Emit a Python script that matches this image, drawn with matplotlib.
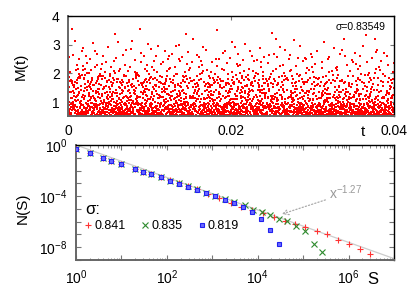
import re
import numpy as np
import matplotlib
matplotlib.use('Agg')
import matplotlib.pyplot as plt
from matplotlib.ticker import LogLocator, FuncFormatter, NullFormatter, FixedLocator

plt.rcParams['font.family'] = ['Liberation Sans', 'DejaVu Sans']
plt.rcParams['mathtext.fontset'] = 'custom'
plt.rcParams['mathtext.rm'] = 'Liberation Sans'
plt.rcParams['mathtext.it'] = 'Liberation Sans:italic'
plt.rcParams['mathtext.bf'] = 'Liberation Sans:bold'

# ---------------- top panel data: M(t) samples, hand-estimated ----------------
# each sample = letter (band of M, see M_bands) + digit (position inside the band, tenths)
M_bands = [0.53, 0.56, 0.59, 0.62, 0.65, 0.68, 0.71, 0.74, 0.77, 0.80, 0.83, 0.86, 0.89,
           0.92, 0.95, 0.98, 1.01, 1.06, 1.11, 1.16, 1.21, 1.26, 1.31, 1.36, 1.41, 1.46,
           1.51, 1.55, 1.59, 1.63, 1.67, 1.71, 1.75, 1.79, 1.83, 1.87, 1.91, 1.95, 2.00,
           2.07, 2.14, 2.21, 2.28, 2.35, 2.43, 2.51, 2.62, 2.73, 2.85, 2.98, 3.22, 3.55]
band_letters = 'abcdefghijklmnopqrstuvwxyzABCDEFGHIJKLMNOPQRSTUVWXY'
M_codes_run1 = (
    "k3R7b0T5q2e9J4w8a1M6c3x0G7n2d5Y9h1s4F8j3o6U0l2p7A5v9i1C4m8g3X6r0f2N7t5y9E1k4b8Q3z6h0O2a7u5S9w1d4L8c3j6I0p2n7B5q9e1V4g8t3"
    "f8W2a5c0P7m3i9H1s6x4D0b8u2K5o9g3T7j1e6R0y4n8A2l5q9F3d7w1M4h0v6C9k2r5S8t0b3N6z1e7G4a9p2I5c8u0X3i6"
    "n4B9d1g6V3a0r8j5E2x7l9o1U6c3k8Q0h5t2w7J4m9b1y6D3f0s5L8e2i7O4q9a3C6u1g8H0v5p2T7n9d4K1z6r3A8j0w5"
    "c2M7i4a9e1R6o3h8x0F5b2s7k9W4l1u6d3G8q0n5t2J7y9a4P1g6m3E8f0v5B2r9j4c7I1w6h3S0p8e5N2k7d9Y4b1o6"
    "a6T1e3l8d5H0u2q7c9X4g1n6k3A8s0i5F2v7b9O4r1m6j3D8y0w5C2h7p9e4U1f6x3a8L0t5K2o7z9g4Q1d6i3V8n0b5"
    "h9e2D6k1a4s8N3c0y5G7i2r4b9P1t6f3m8W0l5u2j7A4o9d1X6q3e8H0g5w2B7n4v9c1S6k3x8a0I5p2J7z4f9M1s6"
    "q5a1F8g3o6c0K2t7e4Y9h1n6d3U8b5x0m2R7j4i9C1l6w3s8E0v5a2T7k4f9O1y6r3G8p0u5H2c7e9Q4z1b6N3i8d0"
    "g7X2b4e9i1L6s3a8o0D5m7k2V9c4t1h6P3w8n0A5r2f7j4y9S1d6u3B8q0e5I2l7x4T9a1C6v3k8g0M5o2W7h4b9F1"
    "d3s8a6K1j9u4E7c2p0n5Q8e3h1y6I9b4t2R7l0g5x8A3m6f1o9V4i2w7D0k5r8H3a6z1c9N4v2S7e0j5q8B3u6g1T9"
    "i0c4O7a2h5w9m1E6r3t8b0U5k7d2G9x4f6s1J8n3e5P0l7y2a9C4q6g1W8o3v5h0L7b2k9D4j6u1S8i3e5X0f7m2R9"
    "u6e1A3s7g0n9T4b2x5d8K3h6o1F9a4r7w0c2M5l8j3E6p9i0Y4k7t2B5f8q1H3z6a9V0m4d7c1N8e3s6I0g9u2O5b7"
    "b1j6t3F8a5e0R4i2m7X9c1o5w3G8k0s6D2h9y4n7A1f5q8l3U0e6v2J9d4r7C1x5g8P3a0T6u2k9L4b7i1H5m8e3S0"
    "m4a8Q2f0d6k9c3W5n1h7E4t0r8s2B6j9x3i5o1V7e4g2N9a6y0l3D8u5p1C7b4w9K2f6I0q3s8A5h1v7d4M9c2R6e0"
    "s2d7I5a3u9e1G6x0o4k8b2L7r5c9h3T0j6m1Y8f4a2P7n5e9i3E0w6g1S8t4l7C2v5q9A0b3k6F8d1z4h7O2e5U9c3"
    "t8g3a0N5e7c2j9V4h1s6m3D8b0k5x7R2i9f4o1L6a8w3H5q0d7n2C9u4y6e1T3l8p0B5r7g2X4c9k1M6s3a8E0j5I7"
    "o5k1C8e3b6r9a0W4m7i2d5t8H1x3f6s0P9g4n7a1U5l2c8j3F6v9e0Q4h7y2D5b8u1K3w6q9A0i4z7m2S5d8o1G3e6"
    "j2s9e4a7X1c6g0n3I8k5d2h9B4t7f1r6L0a3m8u5O2w9e1V4x6p0C3i8l5b2T7q9y4E1h6s3N0j7k2a5R8d1c9F6g4"
    "e9l4M1a6h3u8c0S5k2t7D9j4b6r1y3A8i0n5G2f7x9o4W1d6q3e8P0m5s2B7v9a4K1g6l3H8c0w5z2T6b9u3E1k7i4"
    "w3a8b1F5o9d2k6e0R3s7C9m4h2x6j8U1g5n0a3I7t9l2q4L6c8e1Y5f3p7D0r9u2N4b6s1i8H3k5a7G0v2e9O4d6j1"
    "r7e2T6a1s9n4f8k3D0g5c7J2x9h4b1W6i3a8m0A5u7t2o9E4l1d6Q3y8j5C0e2w7k9M4s1b6p3V8g0n5H2a9I4c6f1"
    "y1h6a4o8G2c5e9k3S7b0m4d8U2i6x1t5N9f3r7a0l4J8q2e6B1s5v9g3X7n0k4D8j2w6a1P5h9u3E7c0b4L8z2i6T1"
    "p9a3c7K1f5i0e4W8d2m6s9o3A7k1g5H0t4b8y2n6R9l3x7j0e5C8u2a6F1q4v9h3S7d0w5M2i8c4O6e1b9k3G7s5a0"
    "a2x7d4N9b1e6s3i8l0U5k9g2c6P4o8h1T5m3j7r0a9E4w2f6y8B1n5e3Q7t9d0I4c6u2k8V3a5s1H7g9l4D2b6x0o8"
    "l6c1e8m4A9g3s5k0a7F2i6t9w1R4b8d3u7J0n5h2o9X4y6e1p3C8a5f0q7K2j9s4E6r1v3S8c5z7a0M9g2e4T6b1k8"
    "v4s8a2D6e1l9i3o7N4c0k5G8t2m6b9W1h3f7u5x0A4j8a2r6O9g1n3e7I5d9y2P4s6L1c8q3e0B5w7k2h9U4a6t1F3"
    "c5o0k8e3V7a1b4G9d6s2j5m0X8i3h7n1a4T9f6l2E5w8c0u3y7Q1r4g9e6K2p5a8x1D7t3B6s0i9N4o2h5v8A1d3k6"
    "h4b7a0S3e8g2n6c9R5t1k4j7m0U8d3a6l2w9F5i1q4e7C0s3y8x6O2a5f9H1u4v7k0g3P6b8e2T9r5i1L4c7n3d0E6"
    "k2e6W8a5s1j9c3D7o0m4i8B2h6t9g5a1Y3u7f0x4n8e2R6d9l3K5b1c7q4M0s8v2a6H9k3p5G1w7e4z0j6T2i9A5o3"
    "d9a5f1I6e3k7n0c4X8s2h6b9O1m5g3t7y0e4V8a2r6u1C5j9l3w7P0i4d8e2N6q1k5a9F3x7S0o4g8b2h6L5c1E9t3"
    "n1e7a3U9s5c8g2J6i0b4m7h1d5T9x3k6a8f2Q0r4o7w1e5H9l3v6B2y8c4j0A5s9p1G3t7k4D8u2i6e0M9a3z5R1g7"
)
M_codes_run2 = (
    "b5g2A7e0m4c8F3i1s6a9k2D5o7h0x3B8n1j6C4t9d2E7l5a0q8G3f6u1r4H9e2w7c5J0p3i8K1b6y4m9L2g7a3v0N5d8s1I6k4z9e7O3h2"
    "c9a4M1f7j2E5d0n8l3B6u2g9i5A0t4o7F1b8k3x6e9C2s5m0h7P4r1a6w3D9q8j5G0c2y7e4H1v6l9K3i0b5n8a2J7d4u1f6Q9g3z0k5"
    "e3p7a1I5c8h2m6B0k9t4d7F2j5s1o8A3g6x0n4L9b2e5q8C1i7u3a0D6r9l4G7f1w5h8M2c6k0y3E5v9j1a7H4b2d8N0s6g3z9o5e2"
    "a8d4k0G6i2s9b5F1e7n3c0A4m8u2h6J9q3t7l1B5f9x4o2a6E8j0w3g7C1r5d9k4D2e6p0i8H3c5y1b7a4v2M6n9s0L5u3f8g1K7"
    "m2e6c9C3a7h1t5j0D8g4o2k6b9A3s7f1x5i0E4n8d2w6a9B5l3q7u1F0c4r8e2G6h9y3k7I1m5p0a8J4d2v6g9b3H7s1e5z0N8"
    "j7a3f0B4i8e2l6c1G5s9d3u7h0A2m4k8o1t6n9E3b5w7x2a4C8g0q6r1e9D5j3y7c2F6p8i0K4a1v5h9l3O2d7m0s4e6H8b1u3"
    "d1h5a9e3D7k0c4n8g2A6f0s5b9L3i1t7e4o8m2C6j9u0x5r3a7B1w4q9e6E2l8c0h3G7k5y1d4I9p6a2n0g3J8v7s5b1f4Q6e9"
    "o4c8a1i6E2g9k5d0F3m7e1s4b8u2A6n9h3t0j5C7f1x8l4a2q6D9w3r7e0B5c9k4G2y6i1p8a3H7d5s0M2v4e9g6b1N3o8j5"
    "g6e0b3m8a5D1i9c4s7A2f6k0t5h8n1C4d7e2u9l3x6j0B8a4o1q7r5g9E2w6c3k8F0i5y1a7G4s9p2d6m0J3e8v5h1H7b4l2"
    "s3a7e1k5c9i2F6d0h4m8A1g5n9b3t7e0C4j8l2o6u1f9D5x3a7q0w8r4c2B6k9e5i1G3y7s0h4p8d2E6m9a3v7g1K5b8n0"
    "u2Q8b4d7A1y9h3E6k0c5M2s8g1o7I4l0f6j3a9t5N2e7k1B4x8w0r3d6i9C2p5e8H1a4v7z0G3u6c9s2m5D8o1h4k7F0j3"
    "x4A9f2t6c0I3e7K1n5b8g2S6d9o3L7h0a4q8C1j5w9u2e6m3g0R4a8y1d5M9p2k6E0b3i7v1c4s8H2j6d0F5n9a3l7B1t4"
    "m7z2H5e9a1k4D8r3g6i0s9A2f5o8b1U4l7j0e3t6X9a2n5q8C1w4i7r0E3k6g9d2P5h8v1b4m7a0s3J6c9f2y5l8j1G4g7"
    "o5d9K3a6e0c4h7c1n8G2s5f9b3t6a0N4j7e1u5x8w2D6l9q3a7H0r4c8k1e5y9i2B6e0b3m7v1g4d8s2a5F9o3j6L0n4"
    "w1e4A8j2g5c9k3h6s0E4f7m1a5d8T2i6o9b3n7F0x4u8l1g5w9a2q6I0r3e7k1h4y8D2i6c9v3M7s0a4g8J1d5f9c3b6"
    "f9k2C6a0i4e8e1m5H9b3s6g0a4n8f1d5O9j2u6l0e3x7B1a5q9w2r6h0K3D7i1y5e9c2p6b0s4m8G1v5a9d3h6f0l4n8"
    "i3a6d0h4K8e1f5m9c2F6g0s4b7a1j5N8t2o6e9l3u7x0A4b8q1c5w9k2e6G0h3i7y1d5p9E2s6a0v4c8g1f5j9e2n6b0"
    "l4e8b1a5i9C3d7k0g4m8h1s5a9D2f6o0t3J7n1e5u9x2a6l0w4Q8r1c5k9e3h6y0I4c8p1a5m9s2G6d0g3v7f1b5e9j2"
    "y6a0m3e7c1K5i8b2d6h9s3g7A0o4f8n1t5b9j2E6l0u4a8x1c5q9r3e6k0D4h8c1y5i9M2p6a0s4g7V1d5f9b2e6n0I3"
    "c8c2a5f9k3e6h0m4d8a1i5s9g2o6B0c3n7t1j5e8l2u6a9x3q7w0E4r8c1k5h9e2y6d0i4b8m1p5a9g3s6v0f4H7n1e5"
)
t_start, t_end = 0.0, 0.04
sigma_text = 'σ=0.83549'

# ---------------- bottom panel data: N(S), log10 values -----------
red_label, green_label, blue_label = '0.841', '0.835', '0.819'
red_logS = [0, 0.30, 0.60, 0.78, 1.0, 1.30, 1.48, 1.66, 1.87, 2.08, 2.27, 2.47, 2.67, 2.90,
            3.14, 3.42, 3.64, 3.88, 4.12, 4.36, 4.61, 4.83, 5.05, 5.30, 5.53, 5.76, 6.00, 6.25, 6.48]
red_logN = [-0.30, -0.64, -1.03, -1.24, -1.51, -1.86, -2.10, -2.29, -2.52, -2.77, -2.99, -3.22, -3.46, -3.80,
            -4.18, -4.52, -4.84, -5.10, -5.31, -5.62, -5.94, -6.22, -6.42, -6.75, -7.00, -7.40, -7.71, -8.10, -8.55]
green_logS = [0, 0.30, 0.60, 0.78, 1.0, 1.30, 1.48, 1.66, 1.87, 2.08, 2.27, 2.47, 2.67, 2.87, 3.07,
              3.27, 3.48, 3.71, 3.90, 4.10, 4.27, 4.46, 4.65, 4.84, 5.03, 5.23, 5.41]
green_logN = [-0.30, -0.64, -1.03, -1.25, -1.50, -1.86, -2.10, -2.28, -2.52, -2.78, -3.00, -3.24, -3.48, -3.72, -3.97,
              -4.22, -4.48, -4.73, -5.05, -5.28, -5.49, -5.78, -5.98, -6.37, -6.75, -7.76, -8.40]
blue_logS = [0, 0.30, 0.60, 0.78, 1.0, 1.30, 1.48, 1.66, 1.87, 2.08, 2.27, 2.47, 2.67, 2.87, 3.07,
             3.27, 3.48, 3.68, 3.87, 4.07, 4.26, 4.46]
blue_logN = [-0.30, -0.65, -1.04, -1.25, -1.52, -1.88, -2.14, -2.30, -2.54, -2.80, -3.03, -3.27, -3.53, -3.79, -4.00,
             -4.31, -4.52, -4.89, -5.28, -5.83, -6.67, -7.74]
fit_exponent = -1.27
fit_label = 'x$^{-1.27}$'


# ---------------- decode top data ----------------
def decode(codes):
    vals = []
    for letter, digit in re.findall(r'([a-zA-Y])(\d)', codes):
        k = band_letters.index(letter)
        lo, hi = M_bands[k], M_bands[k + 1]
        vals.append(lo + (int(digit) + 0.5) / 10.0 * (hi - lo))
    return np.array(vals)


M1 = decode(M_codes_run1)
M2 = decode(M_codes_run2)
t1 = np.linspace(t_start, t_end, len(M1))
t2 = np.linspace(t_start, t_end, len(M2))

W, H = 415, 291
fig = plt.figure(figsize=(W / 100, H / 100), dpi=100)
ax1 = fig.add_axes([68 / W, 1 - 116 / H, 326 / W, 100 / H])
ax2 = fig.add_axes([76 / W, 1 - 260 / H, 318 / W, 115 / H])

spine_gray = '#666666'
tick_gray = '#777777'

for ax in (ax1, ax2):
    ax.spines['left'].set_color(spine_gray)
    ax.spines['bottom'].set_color(spine_gray)
    ax.spines['left'].set_linewidth(1.4)
    ax.spines['bottom'].set_linewidth(1.4)
    ax.spines['top'].set_color('black')
    ax.spines['right'].set_color('black')
    ax.spines['top'].set_linewidth(1.0)
    ax.spines['right'].set_linewidth(1.0)

# ---- top panel
for tt, mm in ((t1, M1), (t2, M2)):
    ax1.plot(tt, mm, linestyle='none', marker='s', ms=1.8, mew=0, color='#ff0000')
ax1.set_xlim(t_start, t_end)
ax1.set_ylim(0.52, 4.0)
ax1.set_xticks([0, 0.02, 0.04])
ax1.set_xticklabels(['0', '0.02', '0.04'])
ax1.set_yticks([1, 2, 3, 4])
ax1.set_yticklabels(['1', '2', '3', '4'])
ax1.tick_params(direction='in', length=3, width=0.8, color=tick_gray, labelsize=10,
                top=True, right=True, pad=6)
ax1.set_ylabel('M(t)', fontsize=11)
ax1.yaxis.set_label_coords(-0.123, 0.5)
ax1.text(0.905, -0.085, 't', transform=ax1.transAxes, ha='center', va='top', fontsize=11)
ax1.text(0.975, 0.89, sigma_text, transform=ax1.transAxes, ha='right', va='center', fontsize=7.5)

# ---- bottom panel
S_fit = np.array([1.0, 1e7])
ax2.plot(S_fit, S_fit ** fit_exponent, color='#cccccc', lw=0.9, zorder=1)
hr, = ax2.plot(10 ** np.array(red_logS), 10 ** np.array(red_logN), linestyle='none', marker='+',
               ms=4.5, mew=0.8, color='#ff3333', zorder=3)
hg, = ax2.plot(10 ** np.array(green_logS), 10 ** np.array(green_logN), linestyle='none', marker='x',
               ms=3.8, mew=0.8, color='#2e8b2e', zorder=3)
hb, = ax2.plot(10 ** np.array(blue_logS), 10 ** np.array(blue_logN), linestyle='none', marker='s',
               ms=3.4, mew=0.8, mfc='#6a6aff', mec='#2020f0', zorder=4)
ax2.set_xscale('log')
ax2.set_yscale('log')
ax2.set_xlim(1, 1e7)
ax2.set_ylim(1e-9, 1)

ax2.xaxis.set_major_locator(LogLocator(base=10, numticks=20))
ax2.xaxis.set_minor_locator(LogLocator(base=10, subs=np.arange(2, 10), numticks=100))
ax2.xaxis.set_major_formatter(FuncFormatter(
    lambda v, p: ('$10^{%d}$' % round(np.log10(v))) if round(np.log10(v)) % 2 == 0 and round(np.log10(v)) < 7 else ''))
ax2.xaxis.set_minor_formatter(NullFormatter())
ax2.yaxis.set_major_locator(LogLocator(base=10, numticks=20))
ax2.yaxis.set_minor_locator(FixedLocator([]))
ax2.yaxis.set_major_formatter(FuncFormatter(
    lambda v, p: ('$10^{%d}$' % round(np.log10(v))) if round(np.log10(v)) % 4 == 0 else ''))
ax2.tick_params(which='major', direction='in', length=3.5, width=0.8, color=tick_gray, labelsize=10,
                top=True, right=True, pad=6)
ax2.tick_params(which='minor', direction='in', length=1.8, width=0.6, color=tick_gray, top=True, right=True)
ax2.set_ylabel('N(S)', fontsize=11)
ax2.yaxis.set_label_coords(-0.145, 0.45)
ax2.text(0.934, -0.1, 'S', transform=ax2.transAxes, ha='center', va='top', fontsize=12)

ax2.annotate(fit_label, xy=(10 ** 4.53, 10 ** -5.41), xytext=(10 ** 5.58, 10 ** -4.5),
             fontsize=10, color='#999999', ha='left', va='bottom',
             arrowprops=dict(arrowstyle='->', linestyle=':', color='#aaaaaa', lw=0.9,
                             shrinkA=1, shrinkB=0))

leg = ax2.legend([hr, hg, hb], [red_label, green_label, blue_label], ncol=3, title='σ:',
                 loc='upper left', bbox_to_anchor=(0.028, 0.50), frameon=False, fontsize=9,
                 title_fontsize=12, handlelength=0.5, handletextpad=0.25, columnspacing=1.3,
                 alignment='left', borderaxespad=0, borderpad=0, labelspacing=0.2)

fig.savefig('out.png', dpi=100)
